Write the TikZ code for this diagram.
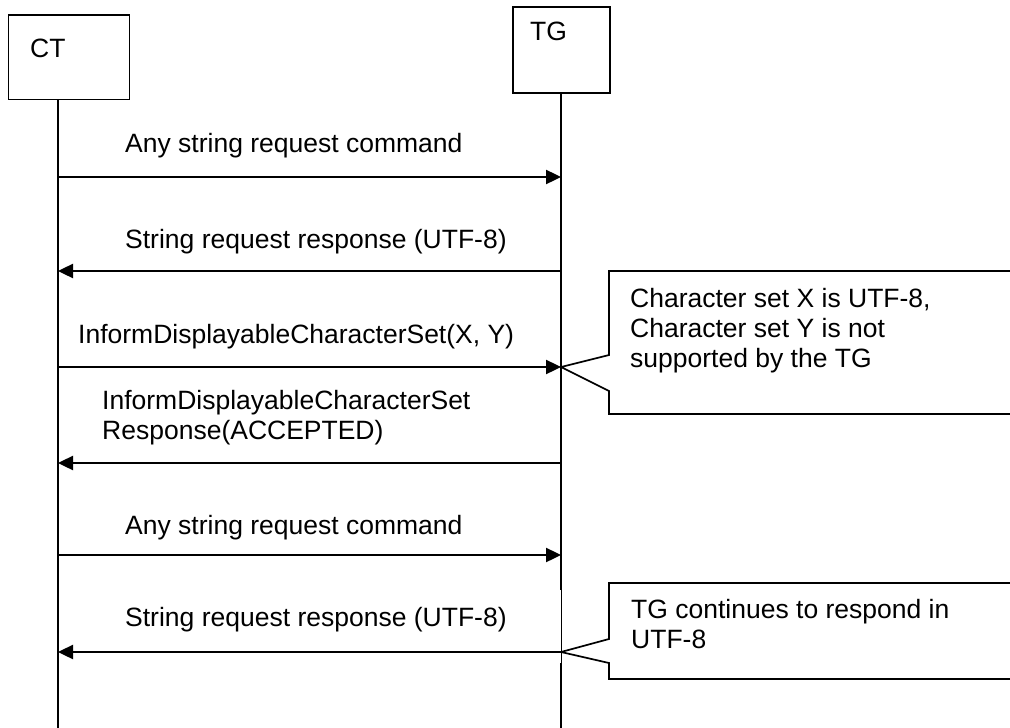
\documentclass[tikz,border=0pt]{standalone}
\usepackage{fontspec}
\setmainfont{Liberation Sans}
\usetikzlibrary{arrows.meta}
\begin{document}
\begin{tikzpicture}[x=1pt,y=-1pt,
  every node/.style={font=\fontsize{26.5}{30}\selectfont, inner sep=0pt},
  lifeline/.style={line width=1.3pt},
  msg/.style={line width=2.4pt, -{Triangle[length=15pt,width=14pt]}},
  lbl/.style={anchor=base west, align=left},
  callout/.style={draw, line width=1.7pt, line join=miter}]
\useasboundingbox (0,0) rectangle (1010,728);
\clip (0,0) rectangle (1010,728);
% actor boxes
\draw[line width=1.4pt] (8.5,15) rectangle (129.5,99.5);
\node[lbl] (ctlabel) at (30,57) {CT};
\draw[line width=1.4pt] (513,7) rectangle (610,93);
\node[lbl] (tglabel) at (530,40) {TG};
% lifelines
\coordinate (cttop) at (58,99.5);
\coordinate (ctbot) at (58,728);
\coordinate (tgtop) at (561,93);
\coordinate (tgbot) at (561,728);
\coordinate (tggap1) at (561,590);
\coordinate (tggap2) at (561,663);
\draw[lifeline] (cttop) -- (ctbot);
\draw[lifeline] (tgtop) -- (tggap1);
\draw[line width=0.6pt] (tggap1) -- (tggap2);
\draw[lifeline] (tggap2) -- (tgbot);
% message end points
\foreach \i/\y in {1/177,2/271,3/367,4/463,5/555,6/652}{
  \coordinate (c\i) at (58,\y);
  \coordinate (t\i) at (561,\y);
}
\draw[msg] (c1) -- (t1);
\draw[msg] (t2) -- (c2);
\draw[msg] (c3) -- (t3);
\draw[msg] (t4) -- (c4);
\draw[msg] (c5) -- (t5);
\draw[msg] (t6) -- (c6);
% labels
\node[lbl] (m1) at (125,152) {Any string request command};
\node[lbl] (m2) at (125,248) {String request response (UTF-8)};
\node[lbl] (m3) at (78,343) {InformDisplayableCharacterSet(X, Y)};
\node[lbl] (m4) at (102,439) {InformDisplayableCharacterSet\\Response(ACCEPTED)};
\node[lbl] (m5) at (125,534) {Any string request command};
\node[lbl] (m6) at (125,626) {String request response (UTF-8)};
% callouts
\draw[callout] (t3) -- (609,355) -- (609,271) -- (1020,271) -- (1020,414) -- (609,414) -- (609,391) -- cycle;
\node[lbl] (n1) at (630,367) {Character set X is UTF-8,\\Character set Y is not\\supported by the TG};
\draw[callout] (t6) -- (609,639) -- (609,583) -- (1020,583) -- (1020,679) -- (609,679) -- (609,663) -- cycle;
\node[lbl] (n2) at (631,648) {TG continues to respond in\\UTF-8};
\end{tikzpicture}
\end{document}
